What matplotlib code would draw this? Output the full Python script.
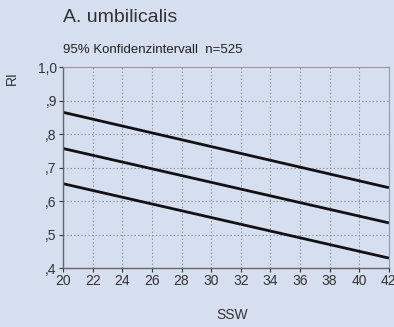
import matplotlib
matplotlib.use('Agg')
import matplotlib.pyplot as plt

# Reference lines (95% confidence interval), read at SSW 20 and 42
ssw = [20, 42]
upper = [0.865, 0.640]
middle = [0.757, 0.535]
lower = [0.652, 0.430]

x_ticks = [20, 22, 24, 26, 28, 30, 32, 34, 36, 38, 40, 42]
y_ticks = [0.4, 0.5, 0.6, 0.7, 0.8, 0.9, 1.0]
y_labels = [',4', ',5', ',6', ',7', ',8', ',9', '1,0']

bg = '#d5dff0'
plt.rcParams['font.family'] = ['Liberation Sans', 'DejaVu Sans']

fig = plt.figure(figsize=(3.94, 3.27), dpi=100, facecolor=bg)
ax = fig.add_axes([0.160, 0.180, 0.827, 0.615], facecolor=bg)

for series in (upper, middle, lower):
    ax.plot(ssw, series, color='#111111', lw=2.0, solid_capstyle='butt')

ax.set_xlim(20, 42)
ax.set_ylim(0.4, 1.0)
ax.set_xticks(x_ticks)
ax.set_yticks(y_ticks)
ax.set_yticklabels(y_labels)
ax.tick_params(labelsize=10, colors='#333333', length=3, width=0.8, pad=1.5)

ax.grid(True, color='#8a8f99', ls=(0, (1.2, 2.0)), lw=0.8)
for side in ('left', 'bottom'):
    ax.spines[side].set_color('#666666')
    ax.spines[side].set_linewidth(1.0)
for side in ('top', 'right'):
    ax.spines[side].set_color('#999999')
    ax.spines[side].set_linewidth(0.8)

fig.text(0.160, 0.946, 'A. umbilicalis', fontsize=14, color='#333333',
         ha='left', va='center')
fig.text(0.160, 0.848, '95% Konfidenzintervall  n=525', fontsize=9.5,
         color='#222222', ha='left', va='center')
fig.text(0.030, 0.762, 'RI', fontsize=10, color='#333333', rotation=90,
         ha='center', va='center')
fig.text(0.589, 0.037, 'SSW', fontsize=10, color='#333333',
         ha='center', va='center')

fig.savefig('out.png', dpi=100, facecolor=bg)
